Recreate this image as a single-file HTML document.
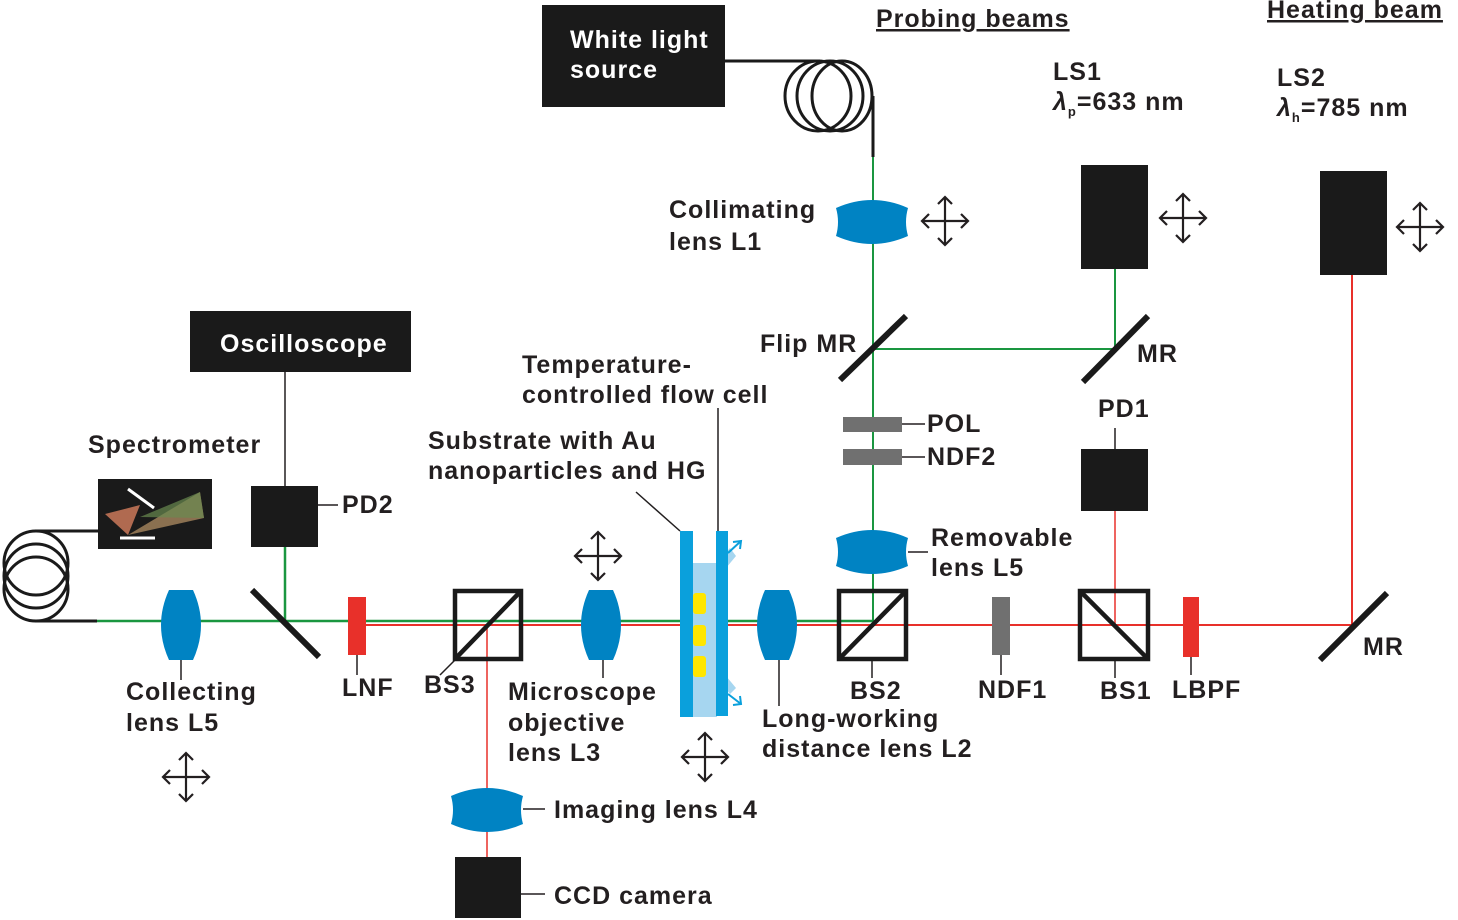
<!DOCTYPE html>
<html><head><meta charset="utf-8"><style>
html,body{margin:0;padding:0;background:#fff}
svg{display:block}
text{font-family:"Liberation Sans",Arial,sans-serif;font-weight:bold;font-size:25px;fill:#231f20;letter-spacing:1px}
</style></head><body>
<svg width="1458" height="920" viewBox="0 0 1458 920" xmlns="http://www.w3.org/2000/svg">
<defs>
<g id="cross" stroke="#231f20" stroke-width="2.2" fill="none">
<line x1="-23" y1="0" x2="23" y2="0"/><line x1="0" y1="-24" x2="0" y2="24"/>
<polyline points="-16,-7 -23,0 -16,7"/><polyline points="16,-7 23,0 16,7"/>
<polyline points="-7,-17 0,-24 7,-17"/><polyline points="-7,17 0,24 7,17"/>
</g>
<path id="hlens" d="M-36,-14 Q0,-30 36,-14 Q32,0 36,14 Q0,30 -36,14 Q-32,0 -36,-14Z" fill="#0083c3"/>
<path id="vlens" d="M-12,-35 L12,-35 Q28,0 12,35 L-12,35 Q-28,0 -12,-35Z" fill="#0083c3"/>
</defs>

<g fill="none">
<line x1="350" y1="625" x2="1352" y2="625" stroke="#e8302a" stroke-width="2"/>
<line x1="1352" y1="275" x2="1352" y2="625" stroke="#e8302a" stroke-width="2"/>
<line x1="1115" y1="511" x2="1115" y2="625" stroke="#e8302a" stroke-width="1.5"/>
<line x1="487" y1="625" x2="487" y2="857" stroke="#e8302a" stroke-width="1.5"/>
<line x1="97" y1="621" x2="873" y2="621" stroke="#1a9640" stroke-width="2.5"/>
<line x1="873" y1="157" x2="873" y2="621" stroke="#1a9640" stroke-width="2"/>
<line x1="873" y1="349" x2="1115" y2="349" stroke="#1a9640" stroke-width="2"/>
<line x1="1115" y1="269" x2="1115" y2="349" stroke="#1a9640" stroke-width="2"/>
<line x1="285" y1="547" x2="285" y2="621" stroke="#1a9640" stroke-width="2.5"/>
</g>

<rect x="542" y="5" width="183" height="102" fill="#1a1a1a"/>
<text x="570" y="48" style="fill:#fff">White light</text>
<text x="570" y="78" style="fill:#fff">source</text>
<g stroke="#1a1a1a" stroke-width="3" fill="none">
<line x1="725" y1="61" x2="820" y2="61"/>
<ellipse cx="818" cy="96" rx="33" ry="35"/>
<ellipse cx="830" cy="96" rx="33" ry="35"/>
<ellipse cx="842" cy="96" rx="30" ry="35"/>
<line x1="873" y1="96" x2="873" y2="157"/>
</g>

<text x="876" y="27" text-decoration="underline">Probing beams</text>
<text x="1267" y="18" text-decoration="underline">Heating beam</text>
<text x="1053" y="80">LS1</text>
<text x="1053" y="110"><tspan font-style="italic">λ</tspan><tspan font-size="13" dy="6">p</tspan><tspan dy="-6">=633 nm</tspan></text>
<text x="1277" y="86">LS2</text>
<text x="1277" y="116"><tspan font-style="italic">λ</tspan><tspan font-size="13" dy="6">h</tspan><tspan dy="-6">=785 nm</tspan></text>
<rect x="1081" y="165" width="67" height="104" fill="#1a1a1a"/>
<rect x="1320" y="171" width="67" height="104" fill="#1a1a1a"/>
<use href="#cross" x="1183" y="218"/>
<use href="#cross" x="1420" y="227"/>
<use href="#cross" x="945" y="221"/>
<use href="#cross" x="598" y="556"/>
<use href="#cross" x="705" y="757"/>
<use href="#cross" x="186" y="777"/>

<use href="#hlens" x="872" y="222"/>
<text x="669" y="218">Collimating</text>
<text x="669" y="250">lens L1</text>

<g stroke="#1a1a1a" stroke-width="6">
<line x1="840" y1="380" x2="906" y2="316"/>
<line x1="1083" y1="382" x2="1148" y2="316"/>
<line x1="1320" y1="660" x2="1387" y2="593"/>
<line x1="252" y1="590" x2="319" y2="657"/>
</g>
<text x="760" y="352">Flip MR</text>
<text x="1137" y="362">MR</text>
<text x="1363" y="655">MR</text>

<rect x="843" y="417" width="59" height="15" fill="#707070"/>
<rect x="843" y="449" width="59" height="16" fill="#707070"/>
<g stroke="#231f20" stroke-width="1.5">
<line x1="902" y1="424" x2="925" y2="424"/><line x1="902" y1="457" x2="925" y2="457"/>
<line x1="908" y1="552" x2="928" y2="552"/>
<line x1="1115" y1="428" x2="1115" y2="449"/>
<line x1="318" y1="505" x2="338" y2="505"/>
<line x1="285" y1="372" x2="285" y2="486"/>
<line x1="872" y1="660" x2="872" y2="678"/>
<line x1="1115" y1="660" x2="1115" y2="678"/>
<line x1="1001" y1="655" x2="1001" y2="675"/>
<line x1="1191" y1="657" x2="1191" y2="675"/>
<line x1="357" y1="655" x2="357" y2="675"/>
<line x1="455" y1="660" x2="440" y2="675"/>
<line x1="181" y1="660" x2="181" y2="680"/>
<line x1="603" y1="660" x2="603" y2="678"/>
<line x1="779" y1="660" x2="779" y2="706"/>
<line x1="523" y1="809" x2="545" y2="809"/>
<line x1="521" y1="894" x2="545" y2="894"/>
<line x1="636" y1="492" x2="680" y2="531"/>
<line x1="718" y1="408" x2="718" y2="531"/>
</g>
<text x="927" y="432">POL</text>
<text x="927" y="465">NDF2</text>
<text x="1098" y="417">PD1</text>
<rect x="1081" y="449" width="67" height="62" fill="#1a1a1a"/>

<use href="#hlens" x="872" y="552"/>
<text x="931" y="546">Removable</text>
<text x="931" y="576">lens L5</text>

<g stroke="#1a1a1a" stroke-width="4.5" fill="none">
<rect x="839" y="591" width="67" height="68"/><line x1="839" y1="659" x2="906" y2="591"/>
<rect x="1080" y="591" width="68" height="68"/><line x1="1080" y1="591" x2="1148" y2="659"/>
<rect x="455" y="591" width="66" height="68"/><line x1="455" y1="659" x2="521" y2="591"/>
</g>
<text x="850" y="699">BS2</text>
<text x="1100" y="699">BS1</text>
<text x="424" y="693">BS3</text>

<rect x="992" y="597" width="18" height="58" fill="#707070"/>
<text x="978" y="698">NDF1</text>
<rect x="1183" y="597" width="16" height="60" fill="#e8302a"/>
<text x="1172" y="698">LBPF</text>
<rect x="348" y="597" width="18" height="58" fill="#e8302a"/>
<text x="342" y="696">LNF</text>

<use href="#vlens" x="777" y="625"/>
<text x="762" y="727">Long-working</text>
<text x="762" y="757">distance lens L2</text>
<use href="#vlens" x="601" y="625"/>
<text x="508" y="700">Microscope</text>
<text x="508" y="731">objective</text>
<text x="508" y="761">lens L3</text>
<use href="#vlens" x="181" y="625"/>
<text x="126" y="700">Collecting</text>
<text x="126" y="731">lens L5</text>

<rect x="693" y="563" width="24" height="154" fill="#a6d6f0"/>
<path d="M716,563 L730,548 L736,556 L716,580Z M716,676 L730,694 L736,688 L716,664Z" fill="#a6d6f0"/>
<rect x="680" y="531" width="13" height="186" fill="#0aa0dc"/>
<rect x="716" y="531" width="12" height="185" fill="#0aa0dc"/>
<rect x="693" y="593" width="13" height="21" rx="3" fill="#ffe600"/>
<rect x="693" y="625" width="13" height="21" rx="3" fill="#ffe600"/>
<rect x="693" y="656" width="13" height="21" rx="3" fill="#ffe600"/>
<g stroke="#0aa0dc" stroke-width="2" fill="none">
<polyline points="733,542 741,541 740,549"/><line x1="728" y1="553" x2="741" y2="541"/>
<polyline points="733,705 741,704 740,696"/><line x1="728" y1="694" x2="741" y2="704"/>
</g>
<text x="522" y="373">Temperature-</text>
<text x="522" y="403">controlled flow cell</text>
<text x="428" y="449">Substrate with Au</text>
<text x="428" y="479">nanoparticles and HG</text>

<use href="#hlens" x="487" y="810"/>
<text x="554" y="818">Imaging lens L4</text>
<rect x="455" y="857" width="66" height="61" fill="#1a1a1a"/>
<text x="554" y="904">CCD camera</text>

<rect x="190" y="311" width="221" height="61" fill="#1a1a1a"/>
<text x="220" y="352" style="fill:#fff">Oscilloscope</text>
<rect x="251" y="486" width="67" height="61" fill="#1a1a1a"/>
<text x="342" y="513">PD2</text>
<text x="88" y="453">Spectrometer</text>
<rect x="98" y="479" width="114" height="70" fill="#1a1a1a"/>
<polygon points="105,514 140,505 128,535" fill="#b06a50"/>
<polygon points="128,535 200,492 204,518" fill="#8a7050"/>
<polygon points="140,517 200,492 204,518" fill="#6a8a50" opacity=".7"/>
<line x1="128" y1="489" x2="154" y2="508" stroke="#fff" stroke-width="3"/>
<line x1="120" y1="538" x2="155" y2="538" stroke="#fff" stroke-width="3"/>
<g stroke="#1a1a1a" stroke-width="3" fill="none">
<line x1="35" y1="531" x2="98" y2="531"/>
<line x1="35" y1="621" x2="97" y2="621"/>
<circle cx="36" cy="563" r="32"/>
<circle cx="36" cy="576" r="32"/>
<circle cx="36" cy="589" r="32"/>
</g>
</svg>
</body></html>
